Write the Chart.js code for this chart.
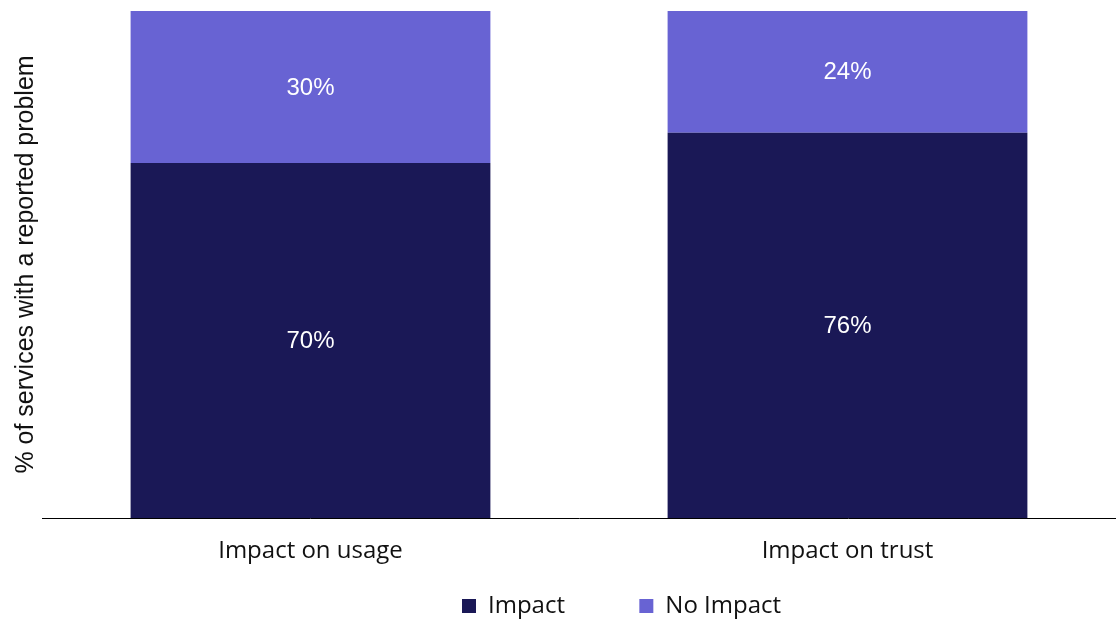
<!DOCTYPE html>
<html>
<head>
<meta charset="utf-8">
<title>Impact of reported problems</title>
<script src="https://cdn.jsdelivr.net/npm/chart.js@4.4.1/dist/chart.umd.min.js"></script>
<style>
  html, body { margin: 0; padding: 0; background: #fff; }
  #wrap { width: 1116px; height: 622px; position: relative; }
</style>
</head>
<body>
<div id="wrap"><canvas id="impactChart"></canvas></div>
<script>
const categories = ['Impact on usage', 'Impact on trust'];
const impactValues = [70, 76];
const noImpactValues = [30, 24];
const seriesNames = ['Impact', 'No Impact'];

const labelFont = '"Liberation Sans", Arial, sans-serif';
const tickFont = '"Open Sans", "Liberation Sans", sans-serif';

// writes the percentage in the middle of every bar segment
const segmentLabels = {
  id: 'segmentLabels',
  afterDatasetsDraw(chart) {
    const ctx = chart.ctx;
    ctx.save();
    ctx.fillStyle = '#ffffff';
    ctx.font = '24px ' + labelFont;
    ctx.textAlign = 'center';
    ctx.textBaseline = 'middle';
    chart.data.datasets.forEach((ds, i) => {
      chart.getDatasetMeta(i).data.forEach((bar, j) => {
        const p = bar.getProps(['x', 'y', 'base'], true);
        ctx.fillText(ds.data[j] + '%', p.x, (p.y + p.base) / 2 + 1);
      });
    });
    ctx.restore();
  }
};

// legend row starts a little right of the canvas centre
const legendShift = {
  id: 'legendShift',
  afterUpdate(chart) {
    const lg = chart.legend;
    if (!lg || !lg.legendHitBoxes.length) return;
    const dx = 462 - lg.legendHitBoxes[0].left;
    lg.left += dx;
    lg.right += dx;
    lg.legendHitBoxes.forEach(b => { b.left += dx; });
  }
};

const ctx = document.getElementById('impactChart').getContext('2d');
new Chart(ctx, {
  type: 'bar',
  data: {
    labels: categories,
    datasets: [
      {
        label: seriesNames[0],
        data: impactValues,
        backgroundColor: '#1a1856',
        borderWidth: 0,
        categoryPercentage: 1,
        barPercentage: 0.67
      },
      {
        label: seriesNames[1],
        data: noImpactValues,
        backgroundColor: '#6863d3',
        borderWidth: 0,
        categoryPercentage: 1,
        barPercentage: 0.67
      }
    ]
  },
  options: {
    responsive: true,
    maintainAspectRatio: false,
    animation: false,
    layout: { padding: { top: 11, right: 0, left: 0, bottom: -6 } },
    plugins: {
      tooltip: { enabled: false },
      legend: {
        position: 'bottom',
        labels: {
          boxWidth: 14,
          boxHeight: 14,
          padding: 12,
          color: '#111',
          font: { family: tickFont, size: 24 },
          // wider gap between the two legend entries
          generateLabels(chart) {
            const items = Chart.defaults.plugins.legend.labels.generateLabels(chart);
            items[0].text += ' '.repeat(10);
            return items;
          }
        }
      }
    },
    scales: {
      x: {
        stacked: true,
        grid: { display: false },
        border: { display: true, color: '#000', width: 1 },
        ticks: {
          color: '#111',
          padding: 11,
          font: { family: tickFont, size: 24 }
        },
        afterFit(scale) { scale.height = 64; }
      },
      y: {
        stacked: true,
        min: 0,
        max: 100,
        grid: { display: false },
        border: { display: false },
        ticks: { display: false },
        title: {
          display: true,
          text: '% of services with a reported problem',
          color: '#111',
          font: { family: labelFont, size: 25 },
          padding: { top: 11, bottom: 0 }
        },
        afterFit(scale) { scale.width = 42; }
      }
    }
  },
  plugins: [segmentLabels, legendShift]
});
</script>
</body>
</html>
